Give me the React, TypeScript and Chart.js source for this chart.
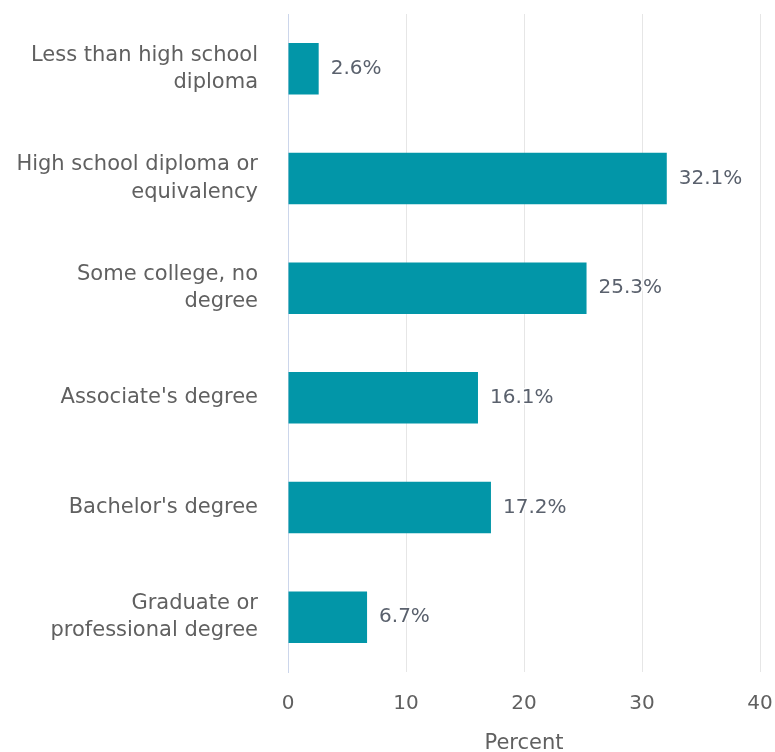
import React, { useEffect, useRef } from "react";
import { Chart, registerables } from "chart.js";

Chart.register(...registerables);

const categories: string[][] = [
  ["Less than high school", "diploma"],
  ["High school diploma or", "equivalency"],
  ["Some college, no", "degree"],
  ["Associate's degree"],
  ["Bachelor's degree"],
  ["Graduate or", "professional degree"],
];
const percentValues: number[] = [2.6, 32.1, 25.3, 16.1, 17.2, 6.7];
const xTickValues: number[] = [0, 10, 20, 30, 40];
const xAxisTitle = "Percent";

const FONT = "'DejaVu Sans', Verdana, sans-serif";
const BAR_COLOR = "#0296a8";
const TEXT_COLOR = "#606060";

const dataLabelPlugin = {
  id: "barValueLabels",
  afterDatasetsDraw(chart: any) {
    const ctx = chart.ctx;
    const meta = chart.getDatasetMeta(0);
    ctx.save();
    ctx.font = `20px ${FONT}`;
    ctx.textAlign = "left";
    ctx.textBaseline = "middle";
    ctx.lineJoin = "round";
    meta.data.forEach((bar: any, i: number) => {
      const txt = `${percentValues[i].toFixed(1)}%`;
      const x = bar.x + 12;
      const y = bar.y;
      ctx.strokeStyle = "#ffffff";
      ctx.lineWidth = 3;
      ctx.strokeText(txt, x, y);
      ctx.fillStyle = "#5a616d";
      ctx.fillText(txt, x, y);
    });
    ctx.restore();
  },
};

const zeroPadding = (scale: any) => {
  scale.paddingTop = 0;
  scale.paddingBottom = 0;
  scale.paddingLeft = 0;
  scale.paddingRight = 0;
};

export default function App() {
  const canvasRef = useRef<HTMLCanvasElement | null>(null);

  useEffect(() => {
    document.body.style.margin = "0";
    const canvas = canvasRef.current;
    if (!canvas) return;
    const chart = new Chart(canvas, {
      type: "bar",
      data: {
        labels: categories,
        datasets: [
          {
            data: percentValues,
            backgroundColor: BAR_COLOR,
            borderWidth: 0,
            barPercentage: 0.47,
            categoryPercentage: 1,
          },
        ],
      },
      options: {
        indexAxis: "y",
        animation: false,
        responsive: false,
        maintainAspectRatio: false,
        devicePixelRatio: 1,
        layout: { padding: { left: 0, right: 15, top: 14, bottom: 0 } },
        plugins: {
          legend: { display: false },
          tooltip: { enabled: false },
        },
        scales: {
          x: {
            type: "linear",
            min: 0,
            max: 40,
            afterBuildTicks: (scale: any) => {
              scale.ticks = xTickValues.map((v) => ({ value: v }));
            },
            afterFit: (scale: any) => {
              scale.height = 80;
              zeroPadding(scale);
            },
            grid: {
              color: "#e6e6e6",
              lineWidth: 1,
              drawTicks: false,
            },
            border: { display: false },
            ticks: {
              color: TEXT_COLOR,
              font: { family: FONT, size: 20 },
              padding: 20,
            },
            title: {
              display: true,
              text: xAxisTitle,
              color: TEXT_COLOR,
              font: { family: FONT, size: 21 },
              padding: { top: 0, bottom: -4 },
            },
          },
          y: {
            type: "category",
            afterFit: (scale: any) => {
              scale.width = 288;
              zeroPadding(scale);
            },
            grid: { display: false, drawTicks: false },
            border: { display: true, color: "#ccd6eb", width: 1 },
            ticks: {
              color: TEXT_COLOR,
              font: { family: FONT, size: 21, lineHeight: 1.3 },
              padding: 30,
            },
          },
        },
      },
      plugins: [dataLabelPlugin],
    });
    return () => chart.destroy();
  }, []);

  return (
    <div style={{ width: 775, height: 752 }}>
      <canvas ref={canvasRef} width={775} height={752} style={{ display: "block" }} />
    </div>
  );
}
